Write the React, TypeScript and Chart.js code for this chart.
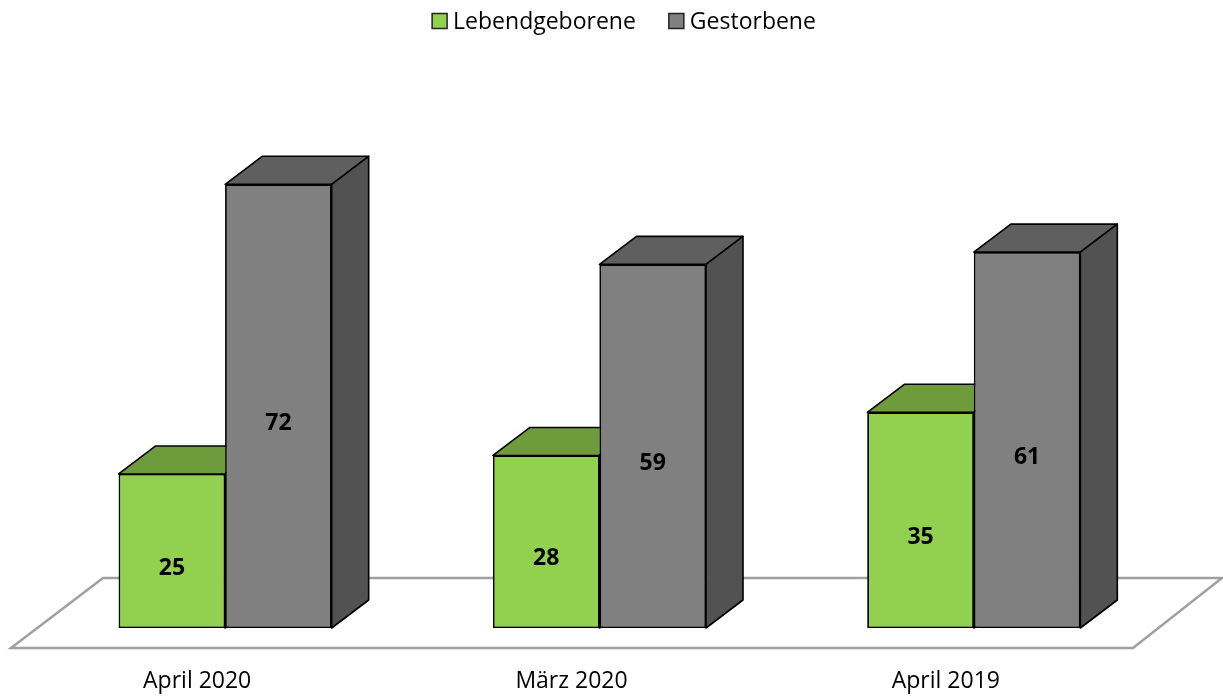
import React, { useEffect, useRef } from "react";
import { Chart, registerables } from "chart.js";

Chart.register(...registerables);

const categories = ["April 2020", "März 2020", "April 2019"];
const seriesNames = ["Lebendgeborene", "Gestorbene"];
const lebendgeborene = [25, 28, 35];
const gestorbene = [72, 59, 61];

const frontColors = ["#92D050", "#808080"];
const topColors = ["#6E9B3C", "#5F5F5F"];
const sideColors = ["#5E8A30", "#525252"];

const DX = 37;
const DY = -28;
const FONT = "'Open Sans', 'DejaVu Sans', sans-serif";

const threeD = {
  id: "threeD",
  beforeDatasetsDraw(chart: any) {
    const { ctx, chartArea } = chart;
    const bottom = chartArea.bottom;
    ctx.save();
    ctx.strokeStyle = "#A0A0A0";
    ctx.lineWidth = 2.5;
    ctx.beginPath();
    ctx.moveTo(chartArea.left - 27, bottom + 20);
    ctx.lineTo(chartArea.right - 28, bottom + 20);
    ctx.lineTo(chartArea.right + 61, bottom - 50);
    ctx.lineTo(chartArea.left + 65, bottom - 50);
    ctx.closePath();
    ctx.stroke();
    ctx.restore();
  },
  afterDatasetsDraw(chart: any) {
    const { ctx } = chart;
    chart.data.datasets.forEach((_ds: any, i: number) => {
      const meta = chart.getDatasetMeta(i);
      meta.data.forEach((bar: any) => {
        bar.draw(ctx);
        const p = bar.getProps(["x", "y", "base", "width"], true);
        const l = p.x - p.width / 2;
        const r = p.x + p.width / 2;
        const t = p.y;
        const b = p.base;
        ctx.save();
        ctx.strokeStyle = "#000";
        ctx.lineWidth = 1.6;
        ctx.lineJoin = "round";
        // top face
        ctx.fillStyle = topColors[i];
        ctx.beginPath();
        ctx.moveTo(l, t);
        ctx.lineTo(r, t);
        ctx.lineTo(r + DX, t + DY);
        ctx.lineTo(l + DX, t + DY);
        ctx.closePath();
        ctx.fill();
        ctx.stroke();
        // side face
        ctx.fillStyle = sideColors[i];
        ctx.beginPath();
        ctx.moveTo(r, t);
        ctx.lineTo(r + DX, t + DY);
        ctx.lineTo(r + DX, b + DY);
        ctx.lineTo(r, b);
        ctx.closePath();
        ctx.fill();
        ctx.stroke();
        ctx.restore();
      });
    });
  },
  afterDraw(chart: any) {
    const { ctx, chartArea } = chart;
    const xScale = chart.scales.x;
    ctx.save();
    // data labels
    ctx.fillStyle = "#000";
    ctx.textAlign = "center";
    ctx.textBaseline = "middle";
    ctx.font = `bold 23px ${FONT}`;
    chart.data.datasets.forEach((ds: any, i: number) => {
      const meta = chart.getDatasetMeta(i);
      meta.data.forEach((bar: any, j: number) => {
        const p = bar.getProps(["x", "y", "base"], true);
        ctx.fillText(String(ds.data[j]), p.x, (p.y + p.base) / 2 + 17);
      });
    });
    // category labels
    ctx.font = `23px ${FONT}`;
    ctx.textBaseline = "alphabetic";
    categories.forEach((c, j) => {
      ctx.fillText(c, xScale.getPixelForValue(j) - 28, chartArea.bottom + 60);
    });
    // legend
    ctx.font = `23px ${FONT}`;
    ctx.textAlign = "left";
    const box = 15;
    const gap = 6;
    const itemGap = 33;
    const widths = seriesNames.map((n) => box + gap + ctx.measureText(n).width);
    const total = widths.reduce((a, b) => a + b, 0) + itemGap * (widths.length - 1);
    let x = 624 - total / 2;
    const cy = 21;
    seriesNames.forEach((n, i) => {
      ctx.fillStyle = frontColors[i];
      ctx.fillRect(x, cy - box / 2, box, box);
      ctx.strokeStyle = "#222";
      ctx.lineWidth = 1.5;
      ctx.strokeRect(x, cy - box / 2, box, box);
      ctx.fillStyle = "#000";
      ctx.textBaseline = "middle";
      ctx.fillText(n, x + box + gap, cy + 1);
      x += widths[i] + itemGap;
    });
    ctx.restore();
  },
};

export default function App() {
  const ref = useRef<HTMLCanvasElement | null>(null);
  useEffect(() => {
    document.body.style.margin = "0";
    const chart = new Chart(ref.current!, {
      type: "bar",
      data: {
        labels: categories,
        datasets: [
          {
            label: seriesNames[0],
            data: lebendgeborene,
            backgroundColor: frontColors[0],
            borderColor: "#000",
            borderWidth: 1.6,
            borderSkipped: false,
          },
          {
            label: seriesNames[1],
            data: gestorbene,
            backgroundColor: frontColors[1],
            borderColor: "#000",
            borderWidth: 1.6,
            borderSkipped: false,
          },
        ],
      },
      options: {
        animation: false,
        responsive: false,
        devicePixelRatio: 1,
        layout: { padding: { left: 38, right: 62, top: 135, bottom: 69 } },
        datasets: { bar: { barPercentage: 1, categoryPercentage: 0.569 } },
        scales: {
          x: { display: false },
          y: { display: false, min: 0, max: 80 },
        },
        plugins: { legend: { display: false }, tooltip: { enabled: false } },
      },
      plugins: [threeD],
    });
    return () => chart.destroy();
  }, []);
  return (
    <div style={{ width: 1223, height: 697 }}>
      <canvas ref={ref} width={1223} height={697} />
    </div>
  );
}
